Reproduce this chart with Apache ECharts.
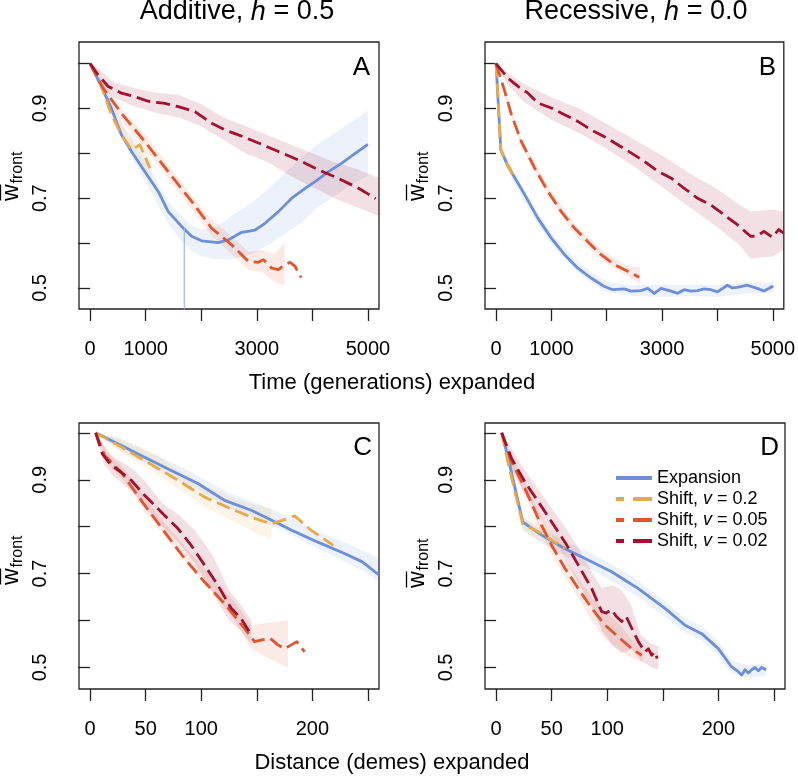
<!DOCTYPE html>
<html>
<head>
<meta charset="utf-8">
<script src="https://cdn.jsdelivr.net/npm/echarts@6/dist/echarts.min.js"></script>
<style>html,body{margin:0;padding:0;background:#fff}#c{width:798px;height:776px}</style>
</head>
<body>
<div id="c"></div>
<script>
// ---------- data ----------
const seriesNames = ['Expansion', 'Shift, v = 0.2', 'Shift, v = 0.05', 'Shift, v = 0.02'];
const timeTicks = [0, 1000, 2000, 3000, 4000, 5000];
const timeLabels = [0, 1000, 3000, 5000];
const distTicks = [0, 50, 100, 150, 200, 250];
const distLabels = [0, 50, 100, 200];
const yTicks = [0.5, 0.6, 0.7, 0.8, 0.9, 1.0];
const yLabels = [0.5, 0.7, 0.9];
const panelTitles = ['Additive, h = 0.5', 'Recessive, h = 0.0'];
const panelLetters = ['A', 'B', 'C', 'D'];

// Panel A (additive, time)
const aExp = [[0,1.0],[175,0.956],[384,0.900],[565,0.841],[745,0.804],[986,0.759],[1226,0.715],[1406,0.670],[1647,0.637],[1827,0.615],[2007,0.605],[2308,0.601],[2488,0.607],[2728,0.624],[2969,0.629],[3149,0.644],[3389,0.670],[3630,0.700],[3870,0.722],[4050,0.737],[4291,0.759],[4531,0.778],[4772,0.800],[5000,0.820]];
const aS02 = [[0,1.0],[204,0.949],[384,0.886],[565,0.841],[745,0.808],[896,0.819],[986,0.793],[1076,0.767]];
const aS005 = [[0,1.0],[234,0.945],[565,0.889],[986,0.826],[1406,0.759],[1827,0.693],[2188,0.633],[2548,0.596],[2849,0.559],[3029,0.557],[3119,0.563],[3269,0.544],[3389,0.541],[3510,0.552],[3600,0.557],[3690,0.548],[3798,0.523]];
const aS002 = [[0,1.0],[144,0.975],[324,0.949],[565,0.934],[805,0.926],[1046,0.916],[1346,0.911],[1587,0.904],[1887,0.893],[2188,0.867],[2428,0.852],[2668,0.841],[3029,0.823],[3389,0.804],[3750,0.785],[4110,0.763],[4471,0.744],[4832,0.722],[5140,0.699]];
const aSpike = [[1695,0.633],[1695,0.40]];
const aExpBand = [[0,1.0,1.0],[200,0.945,0.965],[400,0.885,0.915],[600,0.83,0.86],[800,0.78,0.82],[1000,0.735,0.78],[1200,0.69,0.74],[1400,0.645,0.695],[1600,0.61,0.665],[1800,0.585,0.64],[2000,0.57,0.63],[2300,0.563,0.637],[2600,0.565,0.665],[2900,0.575,0.69],[3200,0.595,0.72],[3500,0.62,0.755],[3800,0.645,0.79],[4100,0.68,0.82],[4400,0.705,0.845],[4700,0.73,0.87],[5000,0.75,0.895]];
const aS02Band = [[0,1,1],[200,0.94,0.96],[400,0.87,0.9],[600,0.825,0.86],[800,0.79,0.83],[1000,0.76,0.81],[1100,0.75,0.80]];
const aS005Band = [[0,1,1],[250,0.93,0.955],[550,0.875,0.9],[1000,0.81,0.84],[1400,0.745,0.775],[1800,0.68,0.71],[2200,0.615,0.65],[2550,0.575,0.615],[2850,0.54,0.58],[3100,0.535,0.585],[3300,0.515,0.575],[3500,0.505,0.6]];
const aS002Band = [[0,1,1],[150,0.96,0.99],[400,0.925,0.96],[800,0.905,0.945],[1200,0.89,0.935],[1600,0.88,0.93],[2000,0.86,0.91],[2400,0.83,0.88],[2800,0.8,0.86],[3200,0.78,0.84],[3600,0.75,0.82],[4000,0.725,0.8],[4400,0.7,0.78],[4800,0.68,0.765],[5200,0.66,0.745]];

// Panel B (recessive, time)
const bExp = [[0,1.0],[85,0.808],[200,0.775],[307,0.752],[517,0.708],[757,0.655],[998,0.611],[1238,0.574],[1478,0.544],[1718,0.522],[1959,0.503],[2109,0.496],[2319,0.498],[2440,0.493],[2619,0.494],[2740,0.499],[2860,0.488],[2980,0.499],[3160,0.493],[3280,0.488],[3400,0.496],[3520,0.493],[3640,0.494],[3760,0.498],[3880,0.496],[4000,0.491],[4180,0.506],[4270,0.500],[4360,0.501],[4540,0.506],[4720,0.499],[4840,0.493],[5010,0.504]];
const bS02 = [[0,1.0],[85,0.808],[200,0.775],[320,0.748]];
const bS005 = [[0,1.0],[157,0.938],[277,0.886],[457,0.826],[697,0.767],[937,0.715],[1178,0.670],[1418,0.633],[1658,0.603],[1898,0.574],[2138,0.552],[2378,0.537],[2588,0.524]];
const bS002 = [[0,1.0],[217,0.967],[397,0.949],[577,0.934],[757,0.912],[998,0.901],[1238,0.886],[1478,0.871],[1718,0.852],[1959,0.837],[2199,0.819],[2439,0.801],[2679,0.782],[2920,0.760],[3160,0.745],[3400,0.722],[3640,0.700],[3880,0.685],[4120,0.663],[4360,0.641],[4600,0.615],[4720,0.616],[4840,0.626],[4990,0.613],[5110,0.630],[5200,0.622]];
const bExpBand = [[0,1,1],[100,0.795,0.815],[300,0.74,0.765],[500,0.695,0.72],[750,0.642,0.668],[1000,0.598,0.624],[1250,0.562,0.588],[1500,0.532,0.557],[1750,0.51,0.533],[2000,0.49,0.513],[2500,0.482,0.506],[3000,0.48,0.507],[3500,0.482,0.507],[4000,0.48,0.506],[4500,0.487,0.512],[5000,0.49,0.512]];
const bS02Band = [[0,1,1],[100,0.795,0.815],[320,0.738,0.758]];
const bS005Band = [[0,1,1],[150,0.93,0.945],[450,0.815,0.835],[950,0.705,0.725],[1400,0.622,0.645],[1900,0.563,0.585],[2350,0.527,0.55],[2600,0.51,0.545]];
const bS002Band = [[0,1,1],[200,0.955,0.98],[500,0.915,0.955],[1000,0.875,0.925],[1500,0.845,0.9],[2000,0.81,0.865],[2500,0.77,0.83],[3000,0.725,0.795],[3500,0.68,0.755],[4000,0.635,0.72],[4400,0.595,0.685],[4600,0.565,0.67],[5000,0.57,0.675],[5200,0.585,0.67]];

// Panel C (additive, distance)
const cExp = [[5,1.0],[25,0.977],[49,0.948],[73,0.920],[97,0.892],[121,0.856],[145,0.835],[163,0.814],[181,0.793],[205,0.767],[229,0.743],[245,0.725],[260,0.697]];
const cS02 = [[5,1.0],[28,0.970],[49,0.941],[79,0.899],[103,0.863],[127,0.838],[145,0.820],[163,0.806],[175,0.815],[184,0.823],[199,0.792],[219,0.760]];
const cS005 = [[5,1.0],[13,0.952],[28,0.916],[49,0.846],[67,0.789],[85,0.732],[103,0.682],[121,0.636],[139,0.583],[148,0.555],[156,0.559],[162,0.562],[169,0.548],[175,0.540],[181,0.548],[186,0.555],[193,0.533]];
const cS002 = [[5,1.0],[11,0.955],[19,0.931],[28,0.916],[37,0.899],[49,0.867],[67,0.824],[79,0.796],[91,0.760],[103,0.718],[115,0.675],[127,0.626],[136,0.604],[143,0.577]];
const cExpBand = [[5,1,1],[25,0.965,0.99],[50,0.935,0.962],[75,0.905,0.935],[100,0.875,0.905],[125,0.84,0.872],[150,0.815,0.85],[175,0.79,0.825],[200,0.76,0.795],[225,0.73,0.77],[250,0.7,0.745],[262,0.68,0.73]];
const cS02Band = [[5,1,1],[30,0.955,0.985],[55,0.92,0.96],[80,0.88,0.92],[105,0.84,0.885],[130,0.81,0.86],[150,0.785,0.845],[163,0.775,0.84]];
const cS005Band = [[5,1,1],[15,0.935,0.96],[30,0.9,0.925],[50,0.83,0.86],[70,0.77,0.8],[90,0.715,0.745],[110,0.66,0.69],[130,0.6,0.64],[145,0.54,0.59],[160,0.52,0.595],[178,0.5,0.6]];
const cS002Band = [[5,1,1],[12,0.935,0.975],[20,0.91,0.95],[30,0.89,0.935],[40,0.87,0.92],[50,0.84,0.895],[65,0.8,0.85],[80,0.765,0.825],[95,0.72,0.79],[110,0.66,0.74],[125,0.6,0.665],[135,0.58,0.635],[145,0.55,0.6]];

// Panel D (recessive, distance)
const dExp = [[5,1.0],[11,0.945],[24,0.810],[41,0.782],[62,0.753],[80,0.732],[104,0.704],[128,0.668],[152,0.626],[170,0.590],[185,0.572],[200,0.540],[212,0.501],[218,0.491],[221,0.484],[224,0.495],[227,0.488],[230,0.495],[233,0.500],[236,0.493],[239,0.500],[243,0.495]];
const dS02 = [[5,1.0],[12,0.923],[24,0.806],[38,0.789],[62,0.754]];
const dS005 = [[5,1.0],[14,0.938],[26,0.881],[38,0.817],[50,0.760],[62,0.711],[74,0.668],[86,0.626],[98,0.590],[110,0.565],[122,0.540],[131,0.526]];
const dS002 = [[5,1.0],[14,0.945],[26,0.895],[38,0.853],[50,0.810],[62,0.767],[74,0.718],[86,0.668],[95,0.619],[99,0.616],[104,0.623],[108,0.609],[113,0.598],[117,0.609],[122,0.584],[128,0.555],[134,0.533],[137,0.540],[140,0.526],[143,0.533],[145,0.519]];
const dExpBand = [[5,1,1],[12,0.93,0.955],[24,0.795,0.82],[40,0.765,0.795],[60,0.74,0.77],[80,0.715,0.75],[100,0.69,0.725],[125,0.655,0.69],[150,0.612,0.645],[170,0.575,0.605],[185,0.558,0.588],[200,0.525,0.555],[212,0.488,0.515],[225,0.478,0.505],[243,0.482,0.507]];
const dS02Band = [[5,1,1],[12,0.91,0.935],[24,0.79,0.82],[40,0.77,0.805],[62,0.74,0.77]];
const dS005Band = [[5,1,1],[14,0.925,0.95],[26,0.865,0.895],[38,0.8,0.835],[50,0.742,0.778],[62,0.693,0.73],[74,0.648,0.69],[86,0.6,0.65],[98,0.56,0.62],[110,0.54,0.595],[122,0.52,0.56],[132,0.51,0.54]];
const dS002Band = [[5,1,1],[14,0.92,0.965],[26,0.87,0.92],[38,0.825,0.88],[50,0.78,0.84],[62,0.73,0.8],[74,0.68,0.755],[86,0.63,0.705],[95,0.58,0.67],[105,0.545,0.675],[113,0.53,0.665],[122,0.54,0.63],[130,0.515,0.57],[140,0.5,0.55],[146,0.495,0.545]];

// ---------- styling ----------
const FONT = '"Liberation Sans", Arial, Helvetica, sans-serif';
const colors = ['#6B8FD9', '#E9A84A', '#E0552D', '#A3112F'];
const bandColors = ['rgba(107,143,217,0.13)', 'rgba(233,168,74,0.13)', 'rgba(224,85,45,0.12)', 'rgba(163,17,47,0.13)'];
const DASH = [14, 6];
const LEGEND_DASH = [8, 9, 19];

const grids = [
  {left: 79, top: 42, width: 300, height: 267},
  {left: 485, top: 42, width: 300, height: 267},
  {left: 79, top: 423, width: 300, height: 266},
  {left: 485, top: 423, width: 300, height: 266}
];
const xRanges = [[-200, 5200], [-200, 5200], [-10, 260], [-10, 260]];
const yRanges = [[0.453, 1.048], [0.453, 1.048], [0.454, 1.021], [0.454, 1.021]];

function xAxisCfg(i) {
  const time = i < 2;
  return {
    type: 'value', gridIndex: i, min: xRanges[i][0], max: xRanges[i][1],
    splitLine: {show: false}, axisLine: {show: false},
    axisTick: {show: true, length: 12, lineStyle: {color: '#222', width: 1.3}, customValues: time ? timeTicks : distTicks},
    axisLabel: {customValues: time ? timeLabels : distLabels, margin: 30, fontSize: 20, color: '#000', fontFamily: FONT, formatter: v => String(v)}
  };
}
function yAxisCfg(i) {
  return {
    type: 'value', gridIndex: i, min: yRanges[i][0], max: yRanges[i][1],
    splitLine: {show: false}, axisLine: {show: false},
    axisTick: {show: true, length: 12, lineStyle: {color: '#222', width: 1.3}, customValues: yTicks},
    axisLabel: {customValues: yLabels, rotate: 90, margin: 29, fontSize: 20, color: '#000', fontFamily: FONT, formatter: v => v.toFixed(1)}
  };
}
function lineSeries(name, gi, data, color, dashed, width) {
  return {
    type: 'line', name: name, xAxisIndex: gi, yAxisIndex: gi, data: data,
    symbol: 'none', showSymbol: false, animation: false, z: 3,
    lineStyle: {color: color, width: width || 2.8, type: dashed ? DASH : 'solid', cap: 'butt', join: 'round'},
    itemStyle: {color: color}
  };
}
function bandSeries(gi, data, color) {
  return {
    type: 'custom', name: 'band', xAxisIndex: gi, yAxisIndex: gi, data: data, silent: true, z: 1, animation: false,
    encode: {x: 0, y: [1, 2]},
    renderItem: function (params, api) {
      if (params.dataIndex !== 0) return null;
      const up = data.map(d => api.coord([d[0], d[2]]));
      const lo = data.map(d => api.coord([d[0], d[1]])).reverse();
      const cs = params.coordSys;
      return {
        type: 'polygon', shape: {points: up.concat(lo)}, style: {fill: color},
        clipPath: {type: 'rect', shape: {x: cs.x, y: cs.y, width: cs.width, height: cs.height}}
      };
    }
  };
}

const panels = [
  [aExp, aS02, aS005, aS002, aExpBand, aS02Band, aS005Band, aS002Band],
  [bExp, bS02, bS005, bS002, bExpBand, bS02Band, bS005Band, bS002Band],
  [cExp, cS02, cS005, cS002, cExpBand, cS02Band, cS005Band, cS002Band],
  [dExp, dS02, dS005, dS002, dExpBand, dS02Band, dS005Band, dS002Band]
];

const series = [];
panels.forEach((p, gi) => {
  for (let k = 0; k < 4; k++) series.push(bandSeries(gi, p[4 + k], bandColors[k]));
});
panels.forEach((p, gi) => {
  for (let k = 0; k < 4; k++) series.push(lineSeries(seriesNames[k], gi, p[k], colors[k], k > 0));
});
series.push(lineSeries('spike', 0, aSpike, '#9FB5E2', false, 1.2));

// ---------- graphics (titles, letters, axis titles) ----------
const rich = {
  n: {fontSize: 27, fontFamily: FONT, fill: '#000'},
  i: {fontSize: 27, fontFamily: FONT, fontStyle: 'italic', fill: '#000'}
};
function titleText(t) {
  const parts = t.split('h');
  return '{n|' + parts[0] + '}{i|h}{n|' + parts[1] + '}';
}
const graphics = [];
graphics.push({type: 'text', x: 237, y: 12, style: {text: titleText(panelTitles[0]), rich: rich, align: 'center', verticalAlign: 'middle', font: '27px ' + FONT}});
graphics.push({type: 'text', x: 636, y: 12, style: {text: titleText(panelTitles[1]), rich: rich, align: 'center', verticalAlign: 'middle', font: '27px ' + FONT}});
const letterPos = [[370, 68], [776, 68], [372, 448], [779, 448]];
panelLetters.forEach((L, i) => {
  graphics.push({type: 'text', x: letterPos[i][0], y: letterPos[i][1], style: {text: L, font: '26px ' + FONT, fill: '#000', align: 'right', verticalAlign: 'middle'}});
});
graphics.push({type: 'text', x: 392, y: 383, style: {text: 'Time (generations) expanded', font: '22px ' + FONT, fill: '#000', align: 'center', verticalAlign: 'middle'}});
graphics.push({type: 'text', x: 392, y: 763, style: {text: 'Distance (demes) expanded', font: '22px ' + FONT, fill: '#000', align: 'center', verticalAlign: 'middle'}});
const ylabPos = [[12, 201], [418, 201], [12, 585], [418, 588]];
ylabPos.forEach(pp => {
  graphics.push({
    type: 'group', x: pp[0], y: pp[1], rotation: Math.PI / 2,
    children: [
      {type: 'text', x: 0, y: 0, style: {text: 'w', font: '23px ' + FONT, fill: '#000', align: 'left', verticalAlign: 'middle'}},
      {type: 'text', x: 17.5, y: 6, style: {text: 'front', font: '16px ' + FONT, fill: '#000', align: 'left', verticalAlign: 'middle'}},
      {type: 'line', shape: {x1: 0.5, y1: -11.5, x2: 16.5, y2: -11.5}, style: {stroke: '#000', lineWidth: 1.3}}
    ]
  });
});

const chart = echarts.init(document.getElementById('c'), null, {renderer: 'canvas'});
chart.setOption({
  animation: false,
  backgroundColor: '#fff',
  grid: grids.map(g => Object.assign({show: true, borderColor: '#222', borderWidth: 1.3, backgroundColor: 'transparent'}, g)),
  xAxis: [0, 1, 2, 3].map(xAxisCfg),
  yAxis: [0, 1, 2, 3].map(yAxisCfg),
  legend: {
    data: seriesNames.map((n, k) => k === 0 ? {name: n} : {name: n, lineStyle: {type: LEGEND_DASH}}),
    orient: 'vertical', left: 609, top: 464, itemWidth: 36, itemHeight: 14, itemGap: 3,
    selectedMode: false,
    itemStyle: {opacity: 0},
    lineStyle: {width: 4},
    textStyle: {fontSize: 18, fontFamily: FONT, color: '#000',
      rich: {n: {fontSize: 18, fontFamily: FONT}, i: {fontSize: 18, fontFamily: FONT, fontStyle: 'italic'}}},
    formatter: function (name) {
      if (name.indexOf('Shift') === 0) return '{n|Shift, }{i|v}{n| = ' + name.split('= ')[1] + '}';
      return '{n|' + name + '}';
    }
  },
  series: series,
  graphic: graphics
});
</script>
</body>
</html>
